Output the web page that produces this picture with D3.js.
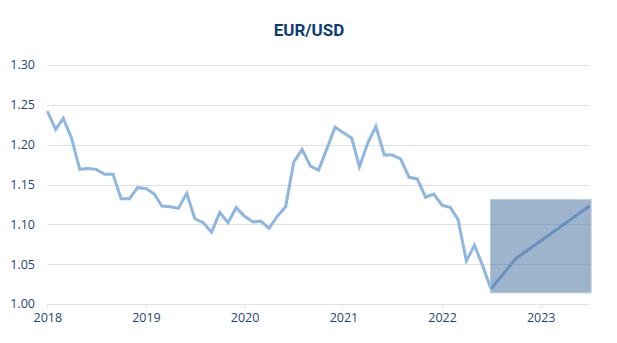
<!DOCTYPE html>
<html>
<head>
<meta charset="utf-8">
<script src="https://cdn.jsdelivr.net/npm/d3@7"></script>
<style>
  html, body { margin: 0; padding: 0; background: #fff; }
  svg { display: block; }
</style>
</head>
<body>
<svg id="chart" width="617" height="343"></svg>
<script>
// EUR/USD monthly rate, Jan 2018 – Jul 2022
const months = [
  "2018-01","2018-02","2018-03","2018-04","2018-05","2018-06","2018-07","2018-08","2018-09","2018-10","2018-11","2018-12",
  "2019-01","2019-02","2019-03","2019-04","2019-05","2019-06","2019-07","2019-08","2019-09","2019-10","2019-11","2019-12",
  "2020-01","2020-02","2020-03","2020-04","2020-05","2020-06","2020-07","2020-08","2020-09","2020-10","2020-11","2020-12",
  "2021-01","2021-02","2021-03","2021-04","2021-05","2021-06","2021-07","2021-08","2021-09","2021-10","2021-11","2021-12",
  "2022-01","2022-02","2022-03","2022-04","2022-05","2022-06","2022-07"
];
const rates = [
  1.242,1.219,1.233,1.208,1.169,1.170,1.169,1.163,1.163,1.132,1.132,1.146,
  1.145,1.138,1.123,1.122,1.120,1.139,1.107,1.102,1.090,1.115,1.102,1.121,
  1.110,1.103,1.104,1.095,1.110,1.122,1.178,1.194,1.173,1.168,1.195,1.222,
  1.215,1.208,1.172,1.202,1.223,1.187,1.187,1.182,1.159,1.157,1.134,1.138,
  1.124,1.121,1.106,1.054,1.074,1.047,1.019
];

// Forecast path
const forecastMonths = ["2022-07","2022-10","2023-07"];
const forecastRates  = [1.019, 1.057, 1.123];

// Forecast range band
const bandMonths = ["2022-07","2023-07"];
const bandRange  = [1.014, 1.131];

const yTicks = [1.00, 1.05, 1.10, 1.15, 1.20, 1.25, 1.30];
const xTickYears = [2018, 2019, 2020, 2021, 2022, 2023];
const title = "EUR/USD";

const parse = d3.timeParse("%Y-%m");
const svg = d3.select("#chart");

const x = d3.scaleTime()
  .domain([parse("2018-01"), parse("2023-07")])
  .range([47.3, 589.6]);
const y = d3.scaleLinear()
  .domain([1.0, 1.3])
  .range([304, 65]);

const labelColor = "#1d4478";
const gridColor = "#e2e2e2";

// Title
svg.append("text")
  .attr("x", 309).attr("y", 36)
  .attr("text-anchor", "middle")
  .attr("font-family", "Roboto, sans-serif")
  .attr("font-weight", 700)
  .attr("font-size", 17)
  .attr("fill", "#0e3d75")
  .text(title);

// Horizontal gridlines + y labels
const yAxis = svg.append("g");
yAxis.selectAll("line").data(yTicks).join("line")
  .attr("x1", x.range()[0]).attr("x2", x.range()[1])
  .attr("y1", d => Math.round(y(d)) + 0.5).attr("y2", d => Math.round(y(d)) + 0.5)
  .attr("stroke", gridColor).attr("stroke-width", 1);
yAxis.selectAll("text").data(yTicks).join("text")
  .attr("x", 35).attr("y", d => y(d))
  .attr("dy", "0.35em")
  .attr("text-anchor", "end")
  .attr("font-family", "'Open Sans', sans-serif")
  .attr("font-size", 12.5)
  .attr("fill", labelColor)
  .text(d => d.toFixed(2));

// X axis ticks and labels
const xg = svg.append("g").attr("transform", `translate(0,${Math.round(y(1.0)) + 0.5})`);
const xAxis = d3.axisBottom(x)
  .tickValues(xTickYears.map(yr => new Date(yr, 0, 1)))
  .tickFormat(d3.timeFormat("%Y"))
  .tickSize(4)
  .tickPadding(5);
xg.call(xAxis);
xg.select(".domain").remove();
xg.selectAll(".tick line").attr("stroke", gridColor);
xg.selectAll(".tick text")
  .attr("font-family", "'Open Sans', sans-serif")
  .attr("font-size", 12.5)
  .attr("fill", labelColor);

// Rate line (history + forecast)
const line = d3.line()
  .x(d => x(d.date))
  .y(d => y(d.value));

const history = months.map((m, i) => ({ date: parse(m), value: rates[i] }));
const forecast = forecastMonths.map((m, i) => ({ date: parse(m), value: forecastRates[i] }));

svg.append("path")
  .datum(history)
  .attr("d", line)
  .attr("fill", "none")
  .attr("stroke", "#8fb6e0")
  .attr("stroke-width", 3)
  .attr("stroke-linejoin", "miter");

svg.append("path")
  .datum(forecast)
  .attr("d", line)
  .attr("fill", "none")
  .attr("stroke", "#8fb6e0")
  .attr("stroke-width", 3)
  .attr("stroke-linejoin", "miter");

// Forecast band overlay
const bx0 = x(parse(bandMonths[0]));
const bx1 = x(parse(bandMonths[1]));
svg.append("rect")
  .attr("x", bx0 - 0.5)
  .attr("y", y(bandRange[1]))
  .attr("width", bx1 - bx0 + 2)
  .attr("height", y(bandRange[0]) - y(bandRange[1]))
  .attr("fill", "#3d6a9a")
  .attr("fill-opacity", 0.5)
  .attr("stroke", "#b8c8da")
  .attr("stroke-width", 1);
</script>
</body>
</html>
